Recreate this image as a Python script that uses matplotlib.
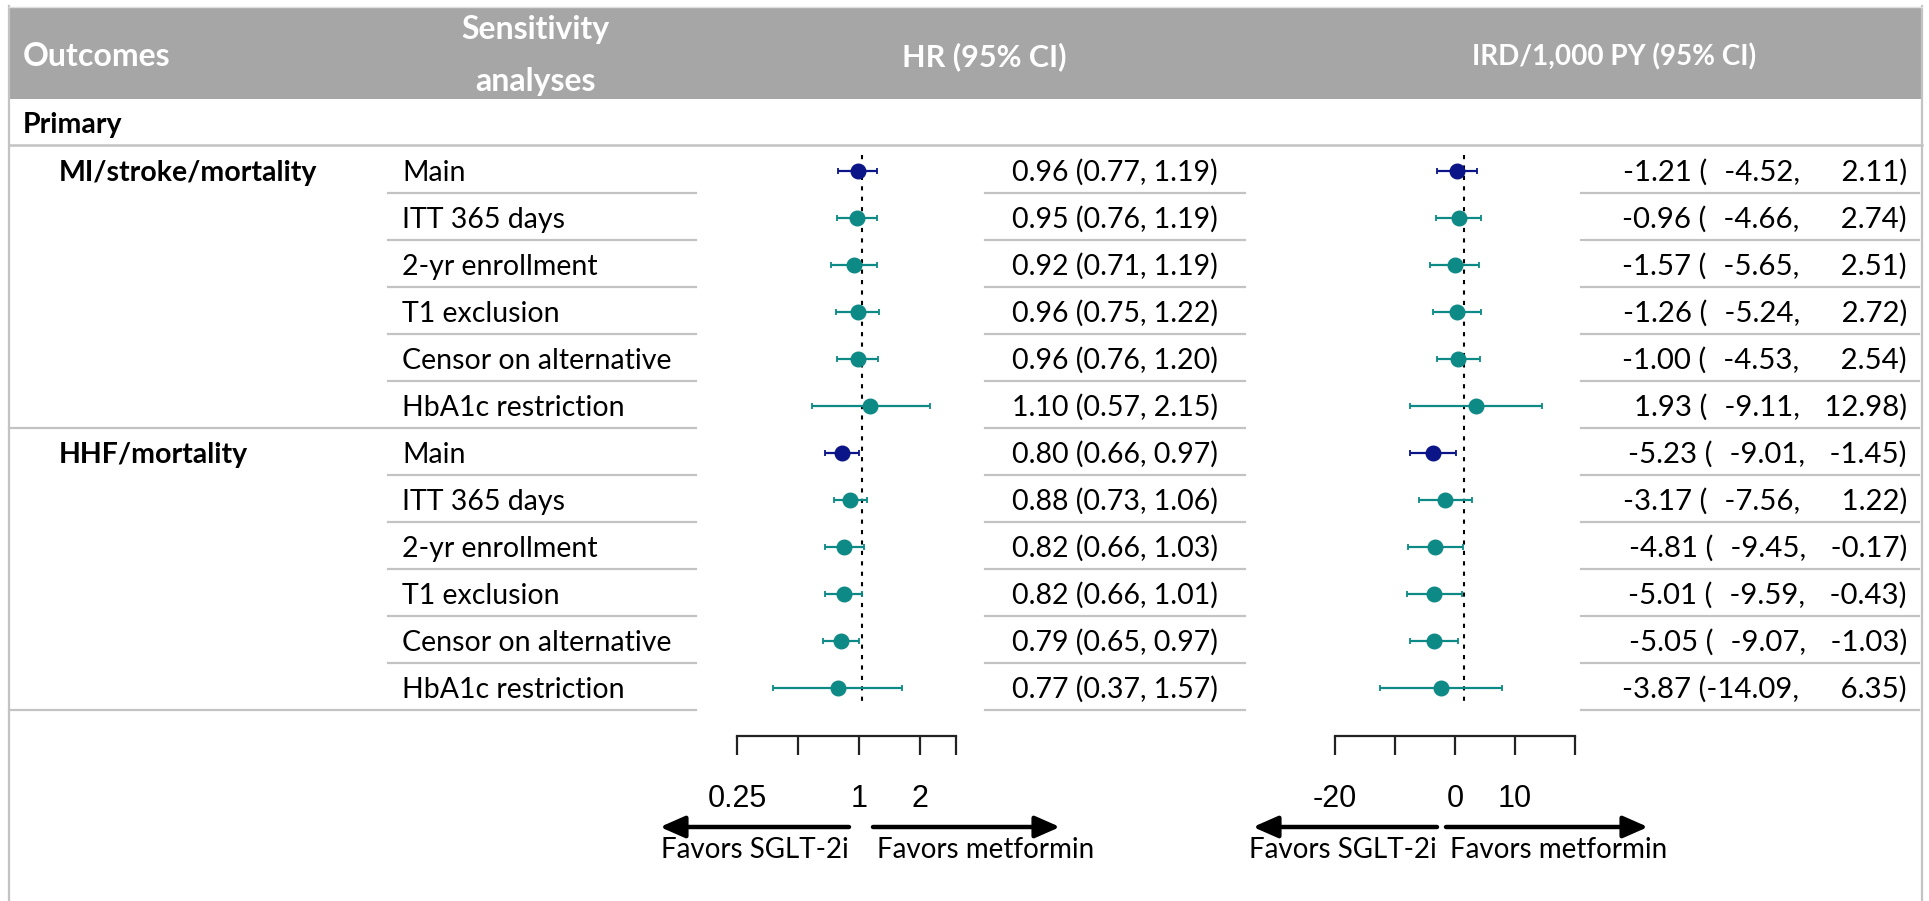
import matplotlib
matplotlib.use("Agg")
import matplotlib.pyplot as plt
from matplotlib.patches import Rectangle

# ---------------- data ----------------
outcomes = ["MI/stroke/mortality", "HHF/mortality"]
analyses = ["Main", "ITT 365 days", "2-yr enrollment", "T1 exclusion",
            "Censor on alternative", "HbA1c restriction"]

hr_est = [0.96, 0.95, 0.92, 0.96, 0.96, 1.10, 0.80, 0.88, 0.82, 0.82, 0.79, 0.77]
hr_lo = [0.77, 0.76, 0.71, 0.75, 0.76, 0.57, 0.66, 0.73, 0.66, 0.66, 0.65, 0.37]
hr_hi = [1.19, 1.19, 1.19, 1.22, 1.20, 2.15, 0.97, 1.06, 1.03, 1.01, 0.97, 1.57]

ird_est = [-1.21, -0.96, -1.57, -1.26, -1.00, 1.93, -5.23, -3.17, -4.81, -5.01, -5.05, -3.87]
ird_lo = [-4.52, -4.66, -5.65, -5.24, -4.53, -9.11, -9.01, -7.56, -9.45, -9.59, -9.07, -14.09]
ird_hi = [2.11, 2.74, 2.51, 2.72, 2.54, 12.98, -1.45, 1.22, -0.17, -0.43, -1.03, 6.35]

hr_ticks = [0.25, 0.5, 1, 2, 3]
hr_ticklabels = ["0.25", "", "1", "2", ""]
ird_ticks = [-20, -10, 0, 10, 20]
ird_ticklabels = ["-20", "", "0", "10", ""]

headers = ["Outcomes", "Sensitivity", "analyses", "HR (95% CI)", "IRD/1,000 PY (95% CI)"]
section = "Primary"
favors = ["Favors SGLT-2i", "Favors metformin"]

# ---------------- style ----------------
W, H = 1929, 901
FONT = ["Lato", "DejaVu Sans"]
TICKFONT = ["Liberation Sans", "DejaVu Sans"]
HEAD_GREY = "#a6a6a6"
LINE_GREY = "#c3c3c3"
NAVY = "#0b1587"
TEAL = "#0e8a86"
FS = 20.5
IFS = 21.2
HFS = 23

ROW0, ROWH = 170.5, 47.0
n_rows = len(hr_est)

fig = plt.figure(figsize=(W / 100, H / 100), dpi=100)
bg = fig.add_axes([0, 0, 1, 1])
bg.set_xlim(0, W)
bg.set_ylim(H, 0)
bg.axis("off")


def fax(x0, y0, x1, y1):
    return fig.add_axes([x0 / W, 1 - y1 / H, (x1 - x0) / W, (y1 - y0) / H])


def cap_off(fs):
    return 0.36 * fs * 100 / 72


def row_y(i):
    return ROW0 + ROWH * i


# header band + border
bg.add_patch(Rectangle((9, 7), 1913, 92, facecolor=HEAD_GREY, edgecolor="none"))
bg.plot([9, 9], [6, H], color=LINE_GREY, lw=1.6)
bg.plot([1922, 1922], [6, H], color=LINE_GREY, lw=1.6)
bg.plot([9, 1922], [6.5, 6.5], color="#e0e0e0", lw=1.0)

hy = 55 + cap_off(HFS)
bg.text(23, hy, headers[0], color="white", fontsize=HFS, fontweight="bold", family=FONT, va="baseline", ha="left")
bg.text(535, 28 + cap_off(HFS), headers[1], color="white", fontsize=HFS, fontweight="bold", family=FONT, va="baseline", ha="center")
bg.text(535, 80 + cap_off(HFS), headers[2], color="white", fontsize=HFS, fontweight="bold", family=FONT, va="baseline", ha="center")
bg.text(984, 55 + cap_off(22), headers[3], color="white", fontsize=22, fontweight="bold", family=FONT, va="baseline", ha="center")
bg.text(1614, 55 + cap_off(20), headers[4], color="white", fontsize=20, fontweight="bold", family=FONT, va="baseline", ha="center")

# section row
bg.text(23, 123 + cap_off(FS), section, fontsize=FS, fontweight="bold", family=FONT, va="baseline", ha="left")
bg.plot([9, 1922], [145, 145], color=LINE_GREY, lw=1.8)

# rows: texts and separators
FIG_SP = "\u2007"


def fmt_ird(e, lo, hi):
    return "{:.2f} ({}, {})".format(e, "{:6.2f}".format(lo).replace(" ", FIG_SP),
                                    "{:6.2f}".format(hi).replace(" ", FIG_SP))


for i in range(n_rows):
    y = row_y(i)
    yb = y + cap_off(FS)
    g, k = divmod(i, len(analyses))
    if k == 0:
        bg.text(59, yb, outcomes[g], fontsize=FS, fontweight="bold", family=FONT, va="baseline", ha="left")
    bg.text(402, yb, analyses[k], fontsize=FS, family=FONT, va="baseline", ha="left")
    bg.text(1218, yb, "{:.2f} ({:.2f}, {:.2f})".format(hr_est[i], hr_lo[i], hr_hi[i]),
            fontsize=FS, family=FONT, va="baseline", ha="right")
    bg.text(1907, y + cap_off(IFS), fmt_ird(ird_est[i], ird_lo[i], ird_hi[i]),
            fontsize=IFS, family=FONT, va="baseline", ha="right")
    sy = y + ROWH / 2 - 1.5
    left = 9 if k == len(analyses) - 1 else 388
    bg.plot([left, 696], [sy, sy], color=LINE_GREY, lw=1.6)
    bg.plot([985, 1245], [sy, sy], color=LINE_GREY, lw=1.6)
    bg.plot([1581, 1919], [sy, sy], color=LINE_GREY, lw=1.6)

colors = [NAVY if (i % len(analyses)) == 0 else TEAL for i in range(n_rows)]

y_top = (146 - ROW0) / ROWH
y_bot = (736 - ROW0) / ROWH
dot_top = (155 - ROW0) / ROWH
dot_bot = (705 - ROW0) / ROWH


def forest(px0, px1, anchor_px, anchor_val, scale, log, est, lo, hi, ref):
    ax = fax(px0, 146, px1, 736)
    ax.patch.set_alpha(0)
    if log:
        ax.set_xscale("log", base=2)
        xl = (anchor_val * 2 ** ((px0 - anchor_px) / scale), anchor_val * 2 ** ((px1 - anchor_px) / scale))
    else:
        xl = (anchor_val + (px0 - anchor_px) / scale, anchor_val + (px1 - anchor_px) / scale)
    ax.set_xlim(*xl)
    ax.set_ylim(y_bot, y_top)
    ax.axis("off")
    ax.vlines(ref, dot_top, dot_bot, colors="black", linestyles=(0, (2, 3)), lw=1.5, zorder=1)
    for i in range(n_rows):
        ax.errorbar([est[i]], [i], xerr=[[est[i] - lo[i]], [hi[i] - est[i]]], fmt="o",
                    color=colors[i], ms=10.5, elinewidth=1.6, capsize=2.0, capthick=1.3, zorder=3)
    return ax


def scale_axis(px0, px1, anchor_px, anchor_val, scale, log, ticks, labels):
    ax = fax(px0, 700, px1, 736)
    ax.patch.set_alpha(0)
    if log:
        ax.set_xscale("log", base=2)
        xl = (anchor_val * 2 ** ((px0 - anchor_px) / scale), anchor_val * 2 ** ((px1 - anchor_px) / scale))
    else:
        xl = (anchor_val + (px0 - anchor_px) / scale, anchor_val + (px1 - anchor_px) / scale)
    ax.set_xlim(*xl)
    for s in ["top", "left", "right"]:
        ax.spines[s].set_visible(False)
    ax.spines["bottom"].set_bounds(ticks[0], ticks[-1])
    ax.spines["bottom"].set_linewidth(1.6)
    ax.spines["bottom"].set_color("#222222")
    ax.set_yticks([])
    ax.xaxis.set_minor_locator(matplotlib.ticker.NullLocator())
    ax.set_xticks(ticks)
    ax.set_xticklabels(labels, family=TICKFONT, fontsize=22)
    ax.tick_params(axis="x", direction="out", length=13.7, width=1.6, color="#222222", pad=21)
    return ax


forest(700, 1000, 861.5, 1.0, 61.6, True, hr_est, hr_lo, hr_hi, 1)
scale_axis(700, 1000, 859, 1.0, 61.0, True, hr_ticks, hr_ticklabels)
forest(1290, 1660, 1464.3, 0.0, 6.0, False, ird_est, ird_lo, ird_hi, 0)
scale_axis(1290, 1660, 1455, 0.0, 6.0, False, ird_ticks, ird_ticklabels)

# favors arrows
AR = dict(arrowstyle="-|>,head_length=0.5,head_width=0.22", lw=3.2, color="black",
          shrinkA=0, shrinkB=0, mutation_scale=30)
ARY = 827
FY = 848 + cap_off(FS - 0.5)
for tail_l, tip_l, tail_r, tip_r in [(849, 660, 873, 1060), (1437, 1253, 1446, 1648)]:
    bg.annotate("", xy=(tip_l, ARY), xytext=(tail_l, ARY), arrowprops=AR)
    bg.annotate("", xy=(tip_r, ARY), xytext=(tail_r, ARY), arrowprops=AR)
    bg.text(tail_l, FY, favors[0], fontsize=FS - 0.5, family=FONT, va="baseline", ha="right")
    bg.text(tail_r + 4, FY, favors[1], fontsize=FS - 0.5, family=FONT, va="baseline", ha="left")

fig.savefig("out.png", dpi=100)
